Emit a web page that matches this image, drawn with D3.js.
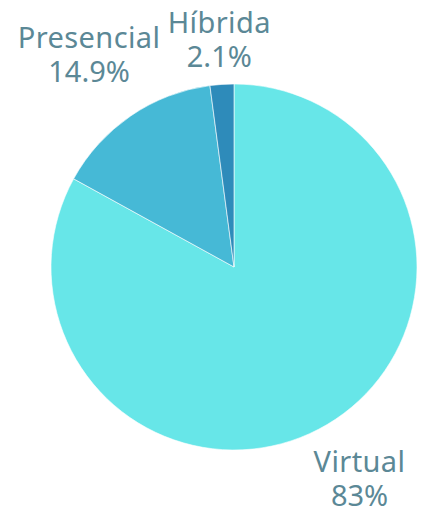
<!DOCTYPE html>
<html>
<head>
<meta charset="utf-8">
<script src="https://cdn.jsdelivr.net/npm/d3@7"></script>
<style>
    html, body { margin: 0; padding: 0; background: #ffffff; }
    svg text { font-family: "Noto Sans", "DejaVu Sans", sans-serif; fill: #5b8896; }
</style>
</head>
<body>
<div id="chart"></div>
<script>
// values
var categories = ['Virtual', 'Presencial', 'Híbrida'];
var values = [83, 14.9, 2.1];
var valueLabels = ['83%', '14.9%', '2.1%'];
var colors = ['#67e6e8', '#46b9d6', '#2e8bba'];

var width = 424;
var height = 508;
var cx = 234;
var cy = 267;
var radius = 183;

var data = categories.map(function (c, i) {
    return {name: c, value: values[i], label: valueLabels[i], color: colors[i]};
});

var svg = d3.select('#chart')
    .append('svg')
    .attr('width', width)
    .attr('height', height);

var pie = d3.pie()
    .sort(null)
    .value(function (d) { return d.value; });

var arc = d3.arc()
    .innerRadius(0)
    .outerRadius(radius);

var arcs = pie(data);

var g = svg.append('g')
    .attr('transform', 'translate(' + cx + ' ' + cy + ')');

g.selectAll('path')
    .data(arcs)
    .enter().append('path')
    .attr('d', arc)
    .attr('fill', function (d) { return d.data.color; })
    .attr('stroke', '#ffffff')
    .attr('stroke-width', 0.6);

// label anchors: outside the pie along each slice's mid angle
var labelArc = d3.arc()
    .innerRadius(radius + 40)
    .outerRadius(radius + 40);

// nudges so the labels sit where the original put them
var nudge = {
    'Virtual': [12, 17],
    'Presencial': [-19, -31],
    'Híbrida': [0, -7]
};

var labels = g.selectAll('g.label')
    .data(arcs)
    .enter().append('g')
    .attr('class', 'label')
    .attr('transform', function (d) {
        var p = labelArc.centroid(d);
        var n = nudge[d.data.name];
        return 'translate(' + (p[0] + n[0]) + ' ' + (p[1] + n[1]) + ')';
    });

labels.append('text')
    .attr('text-anchor', 'middle')
    .attr('y', -4)
    .style('font-size', '29px')
    .style('letter-spacing', '0.4px')
    .text(function (d) { return d.data.name; });

labels.append('text')
    .attr('text-anchor', 'middle')
    .attr('y', 30)
    .style('font-size', '29px')
    .text(function (d) { return d.data.label; });
</script>
</body>
</html>
